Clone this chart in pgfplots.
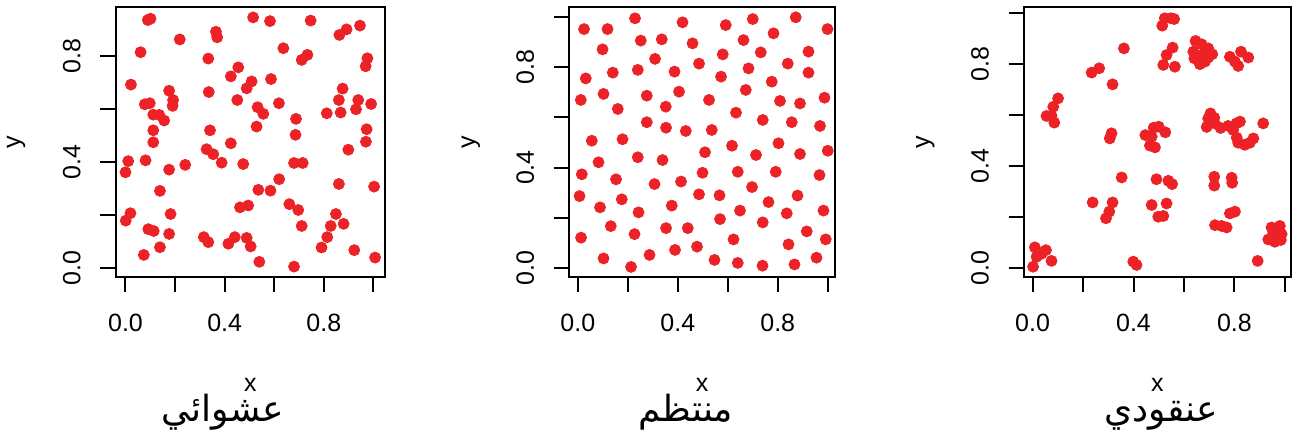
\documentclass[border=0pt]{standalone}
\usepackage{fontspec}
\setmainfont{Liberation Sans}
\newfontfamily\arabicfont[Script=Arabic]{DejaVu Sans}
\TeXXeTstate=1
\usepackage{pgfplots}
\pgfplotsset{compat=1.18}
\definecolor{ptred}{RGB}{236,34,39}
\pgfplotsset{
  rpanel/.style={
    scale only axis, anchor=north west, height=134.7pt,
    axis line style={line width=1.1pt, black},
    tick style={line width=1pt, black},
    major tick length=7.75pt, tick align=outside,
    xtick pos=bottom, ytick pos=left,
    xtick={0,0.2,0.4,0.6,0.8,1}, ytick={0,0.2,0.4,0.6,0.8,1},
    xticklabels={0.0,,0.4,,0.8,}, yticklabels={0.0,,0.4,,0.8,},
    tick label style={font=\fontsize{12.5}{14}\selectfont},
    xticklabel style={anchor=center},
    yticklabel style={rotate=90, anchor=center},
    xticklabel shift=15.45pt, yticklabel shift=14.25pt,
    label style={font=\fontsize{12.5}{14}\selectfont},
    xlabel={x}, ylabel={y},
    xlabel style={at={(axis description cs:0.5,-0.4001)}, anchor=center},
    ylabel style={at={(axis description cs:-0.3702,0.5)}, anchor=center, rotate=0},
    clip=false,
  },
  rpts/.style={only marks, mark=*, mark size=2.75pt, color=ptred, mark options={draw=ptred, fill=ptred}},
}
\begin{document}
\begin{tikzpicture}
\path[use as bounding box] (0,0) rectangle (651pt,-221.5pt);
% Panel 1: random
\begin{axis}[rpanel, at={(57.85pt,-3.65pt)}, width=134.65pt,
  xmin=-0.0395, xmax=1.047, ymin=-0.032, ymax=0.982]
\addplot[rpts] coordinates {
(0.090,0.934) (0.101,0.939) (0.515,0.944) (0.583,0.930) (0.747,0.932) (0.946,0.913) (0.892,0.899) (0.863,0.878)
(0.365,0.890) (0.370,0.869) (0.219,0.861) (0.637,0.828) (0.061,0.813) (0.976,0.790) (0.969,0.760) (0.334,0.789)
(0.711,0.784) (0.734,0.803) (0.455,0.756) (0.022,0.691) (0.425,0.722) (0.587,0.712) (0.489,0.677) (0.509,0.703)
(0.176,0.668) (0.336,0.663) (0.192,0.633) (0.190,0.611) (0.876,0.676) (0.861,0.633) (0.939,0.633) (0.930,0.598)
(0.451,0.633) (0.619,0.621) (0.991,0.618) (0.078,0.617) (0.098,0.621) (0.533,0.606) (0.556,0.581) (0.112,0.578)
(0.136,0.577) (0.156,0.556) (0.812,0.583) (0.868,0.586) (0.688,0.562) (0.529,0.533) (0.341,0.519) (0.112,0.519)
(0.973,0.523) (0.686,0.502) (0.112,0.474) (0.970,0.476) (0.425,0.470) (0.899,0.446) (0.327,0.448) (0.354,0.429)
(0.388,0.397) (0.011,0.403) (0.081,0.406) (0.000,0.361) (0.475,0.392) (0.680,0.396) (0.715,0.396) (0.241,0.389)
(0.176,0.371) (0.620,0.335) (0.861,0.317) (1.003,0.307) (0.139,0.291) (0.536,0.295) (0.585,0.292) (0.661,0.241)
(0.697,0.219) (0.462,0.229) (0.495,0.236) (0.849,0.204) (0.020,0.207) (0.001,0.179) (0.182,0.204) (0.092,0.147)
(0.114,0.140) (0.711,0.159) (0.828,0.159) (0.880,0.167) (0.176,0.129) (0.316,0.117) (0.334,0.098) (0.415,0.092)
(0.441,0.117) (0.489,0.114) (0.505,0.082) (0.139,0.079) (0.814,0.117) (0.791,0.078) (0.923,0.068) (0.074,0.050)
(1.007,0.040) (0.540,0.024) (0.680,0.006)
};
\end{axis}
% Panel 2: regular
\begin{axis}[rpanel, at={(284.65pt,-3.65pt)}, width=132.85pt,
  xmin=-0.034, xmax=1.029, ymin=-0.036, ymax=1.040]
\addplot[rpts] coordinates {
(0.025,0.953) (0.119,0.953) (0.229,0.996) (0.419,0.980) (0.592,0.969) (0.700,0.993) (0.783,0.936) (0.872,1.000) (0.999,0.953)
(0.252,0.907) (0.336,0.912) (0.459,0.896) (0.663,0.909)
(0.099,0.872) (0.580,0.852) (0.732,0.860) (0.923,0.863)
(0.309,0.834) (0.485,0.815) (0.840,0.815)
(0.032,0.756) (0.140,0.779) (0.240,0.790) (0.387,0.783) (0.573,0.763) (0.683,0.796) (0.776,0.743) (0.923,0.779)
(0.012,0.670) (0.103,0.694) (0.276,0.687) (0.405,0.703) (0.525,0.670) (0.672,0.710) (0.809,0.666) (0.889,0.656) (0.987,0.679)
(0.160,0.634) (0.352,0.643) (0.633,0.619)
(0.276,0.581) (0.353,0.559) (0.432,0.546) (0.536,0.550) (0.740,0.590) (0.856,0.581) (0.969,0.566)
(0.056,0.507) (0.179,0.513) (0.617,0.487) (0.803,0.497) (1.000,0.467)
(0.083,0.421) (0.240,0.441) (0.339,0.430) (0.509,0.461) (0.713,0.450) (0.889,0.454)
(0.016,0.373) (0.153,0.353) (0.307,0.334) (0.413,0.344) (0.499,0.379) (0.640,0.383) (0.792,0.383) (0.967,0.370)
(0.007,0.286) (0.176,0.273) (0.485,0.293) (0.567,0.289) (0.697,0.322) (0.763,0.262) (0.879,0.288)
(0.089,0.241) (0.243,0.221) (0.376,0.248) (0.649,0.228) (0.836,0.217) (0.983,0.228)
(0.132,0.166) (0.353,0.158) (0.440,0.158) (0.569,0.194) (0.740,0.181)
(0.013,0.120) (0.227,0.134) (0.623,0.113) (0.916,0.145) (0.992,0.113)
(0.103,0.037) (0.287,0.051) (0.389,0.071) (0.477,0.084) (0.843,0.093)
(0.213,0.003) (0.547,0.031) (0.640,0.019) (0.739,0.008) (0.867,0.013) (0.955,0.040)
};
\end{axis}
% Panel 3: clustered
\begin{axis}[rpanel, at={(512pt,-3.65pt)}, width=133.35pt,
  xmin=-0.034, xmax=1.023, ymin=-0.035, ymax=1.021]
\addplot[rpts] coordinates {
(0.009,0.080) (0.053,0.069) (0.016,0.043) (0.036,0.055) (0.075,0.027) (0.002,0.004)
(0.399,0.024) (0.412,0.011)
(0.238,0.256) (0.317,0.256) (0.304,0.220) (0.291,0.194)
(0.353,0.354)
(0.313,0.527) (0.306,0.507)
(0.234,0.765) (0.264,0.782)
(0.317,0.719)
(0.362,0.860)
(0.101,0.664) (0.082,0.631) (0.055,0.595) (0.075,0.596) (0.086,0.569)
(0.524,0.978) (0.548,0.978) (0.561,0.975) (0.514,0.949)
(0.518,0.795) (0.531,0.834) (0.555,0.863) (0.564,0.788)
(0.646,0.889) (0.670,0.876) (0.696,0.860) (0.712,0.837) (0.637,0.847) (0.670,0.834) (0.696,0.824) (0.641,0.821) (0.663,0.798) (0.683,0.808)
(0.782,0.827) (0.802,0.808) (0.815,0.791) (0.826,0.847) (0.855,0.824)
(0.447,0.520) (0.472,0.514) (0.480,0.549) (0.500,0.553) (0.526,0.531) (0.465,0.479) (0.485,0.472)
(0.491,0.347) (0.538,0.341) (0.553,0.328)
(0.472,0.246) (0.498,0.200) (0.518,0.203) (0.531,0.252)
(0.705,0.605) (0.696,0.585) (0.720,0.588) (0.690,0.552) (0.722,0.566) (0.745,0.548) (0.775,0.556) (0.795,0.540)
(0.808,0.566) (0.822,0.573) (0.809,0.510) (0.815,0.490) (0.841,0.482) (0.861,0.490) (0.875,0.507)
(0.914,0.566)
(0.720,0.357) (0.720,0.322) (0.789,0.353) (0.791,0.333)
(0.723,0.167) (0.749,0.164) (0.769,0.158) (0.802,0.220) (0.782,0.213)
(0.947,0.158) (0.980,0.164) (0.934,0.111) (0.960,0.102) (0.984,0.109) (0.954,0.137) (0.987,0.132)
(0.892,0.027)
};
\end{axis}
\node[font=\arabicfont\fontsize{18}{20}\selectfont, anchor=base] at (111.25pt,-211pt) {\beginR عشوائي\endR};
\node[font=\arabicfont\fontsize{18}{20}\selectfont, anchor=base] at (343pt,-211pt) {\beginR منتظم\endR};
\node[font=\arabicfont\fontsize{18}{20}\selectfont, anchor=base] at (580.5pt,-211pt) {\beginR عنقودي\endR};
\end{tikzpicture}
\end{document}
